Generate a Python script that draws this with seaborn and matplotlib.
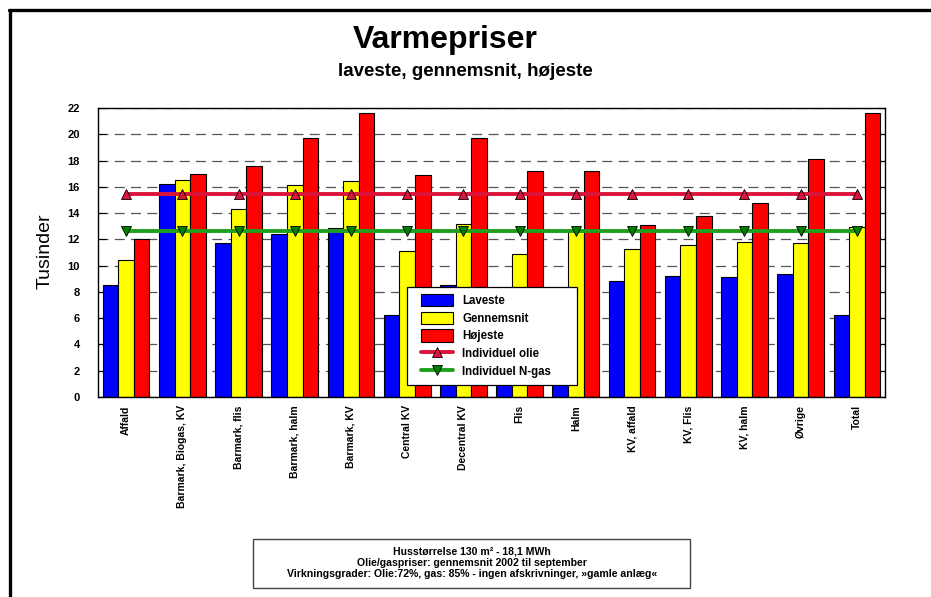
import matplotlib
matplotlib.use('Agg')
from matplotlib import pyplot as plt
from matplotlib.lines import Line2D
from matplotlib.patches import Rectangle
import numpy as np
import pandas as pd
import seaborn as sns

kategorier = ['Affald', 'Barmark, Biogas, KV', 'Barmark, flis', 'Barmark, halm',
              'Barmark, KV', 'Central KV', 'Decentral KV', 'Flis', 'Halm',
              'KV, affald', 'KV, Flis', 'KV, halm', 'Øvrige', 'Total']
laveste = [8.55, 16.2, 11.7, 12.4, 12.85, 6.25, 8.55, 7.3, 7.6, 8.8, 9.2, 9.1, 9.35, 6.25]
gennemsnit = [10.45, 16.55, 14.3, 16.15, 16.45, 11.1, 13.15, 10.9, 12.65, 11.3, 11.6, 11.8, 11.7, 12.95]
hojeste = [12.0, 16.95, 17.55, 19.7, 21.65, 16.9, 19.75, 17.2, 17.2, 13.1, 13.75, 14.75, 18.1, 21.65]
olie = [15.45] * len(kategorier)
ngas = [12.65] * len(kategorier)

serier = ['Laveste', 'Gennemsnit', 'Højeste']
farver = ['#0000ff', '#ffff00', '#ff0000']

df = pd.DataFrame({
    'kategori': kategorier * 3,
    'serie': [s for s in serier for _ in kategorier],
    'pris': laveste + gennemsnit + hojeste,
})

sns.set_style('white')
plt.rcParams['font.family'] = ['Liberation Sans', 'DejaVu Sans']
plt.rcParams['text.color'] = 'black'
plt.rcParams['axes.labelcolor'] = 'black'
plt.rcParams['xtick.color'] = 'black'
plt.rcParams['ytick.color'] = 'black'

fig = plt.figure(figsize=(9.31, 5.97), dpi=100)
ax = fig.add_axes([98/931, 1-397/597, (885-98)/931, (397-108)/597])

sns.barplot(data=df, x='kategori', y='pris', hue='serie', palette=farver, saturation=1,
            width=0.83, gap=0, edgecolor='black', linewidth=0.8, ax=ax, zorder=2)

x = np.arange(len(kategorier))
sns.lineplot(x=x, y=olie, color='#dc143c', linewidth=2.8, marker='^', markersize=7.5,
             markerfacecolor='#dc143c', markeredgecolor='black', markeredgewidth=0.6,
             label='Individuel olie', ax=ax, zorder=4)
sns.lineplot(x=x, y=ngas, color='#1ea01e', linewidth=2.8, marker='v', markersize=7.5,
             markerfacecolor='#008000', markeredgecolor='black', markeredgewidth=0.6,
             label='Individuel N-gas', ax=ax, zorder=4)

ax.set_xlim(-0.5, len(kategorier) - 0.5)
ax.set_ylim(0, 22)
ax.set_yticks(range(0, 23, 2))
ax.yaxis.grid(True, color='#555555', linestyle=(0, (8, 5)), linewidth=0.9, zorder=0)
ax.set_axisbelow(True)
for s in ax.spines.values():
    s.set_color('black')
    s.set_linewidth(1.0)
ax.tick_params(axis='y', direction='in', length=6, width=0.8, left=True, right=True,
               labelsize=8, pad=13)
ax.tick_params(axis='x', length=0, labelsize=7.5, pad=6)
for t in ax.get_yticklabels():
    t.set_fontweight('bold')
ax.set_xticks(x)
ax.set_xticklabels(kategorier, rotation=90, fontweight='bold', va='top', ha='center')
ax.set_xlabel('')
ax.set_ylabel('')

# forklaring: egen ramme + figur-legend uden ramme
h, l = ax.get_legend_handles_labels()
ax.get_legend().remove()
orden = serier + ['Individuel olie', 'Individuel N-gas']
hd = dict(zip(l, h))
fig.add_artist(Rectangle((407/931, 1-385/597), (577-407)/931, (385-287)/597,
                         transform=fig.transFigure, facecolor='white',
                         edgecolor='black', linewidth=0.9, zorder=4))
leg = fig.legend([hd[k] for k in orden], orden, loc='upper left',
                 bbox_to_anchor=(421/931, 1-294/597),
                 frameon=False, prop={'weight': 'bold', 'size': 8.3},
                 handlelength=2.8, handleheight=1.25, labelspacing=0.41,
                 borderpad=0, handletextpad=0.8, borderaxespad=0)
leg.set_zorder(5)

fig.text(445/931, 1-40/597, 'Varmepriser', ha='center', va='center',
         fontsize=23, fontweight='bold')
fig.text(465/931, 1-72/597, 'laveste, gennemsnit, højeste', ha='center', va='center',
         fontsize=13.5, fontweight='bold')
fig.text(45/931, 1-251/597, 'Tusinder', ha='center', va='center', rotation=90, fontsize=14)

# ramme rundt om figuren
fig.add_artist(Line2D([10/931, 10/931], [0, 1-10/597], color='black', linewidth=2.4,
                      transform=fig.transFigure))
fig.add_artist(Line2D([9/931, 1], [1-10/597, 1-10/597], color='black', linewidth=2.4,
                      transform=fig.transFigure))

# fodnote boks
fig.add_artist(Rectangle((253/931, 1-588/597), (690-253)/931, (588-539)/597,
                         transform=fig.transFigure, facecolor='white',
                         edgecolor='#444444', linewidth=1.0))
fodnote = ['Husstørrelse 130 m² - 18,1 MWh',
           'Olie/gaspriser: gennemsnit 2002 til september',
           'Virkningsgrader: Olie:72%, gas: 85% - ingen afskrivninger, »gamle anlæg«']
for i, linje in enumerate(fodnote):
    fig.text(472/931, 1-(552 + i*10.9)/597, linje, ha='center', va='center',
             fontsize=7.6, fontweight='bold')

plt.savefig('out.png', dpi=100)
